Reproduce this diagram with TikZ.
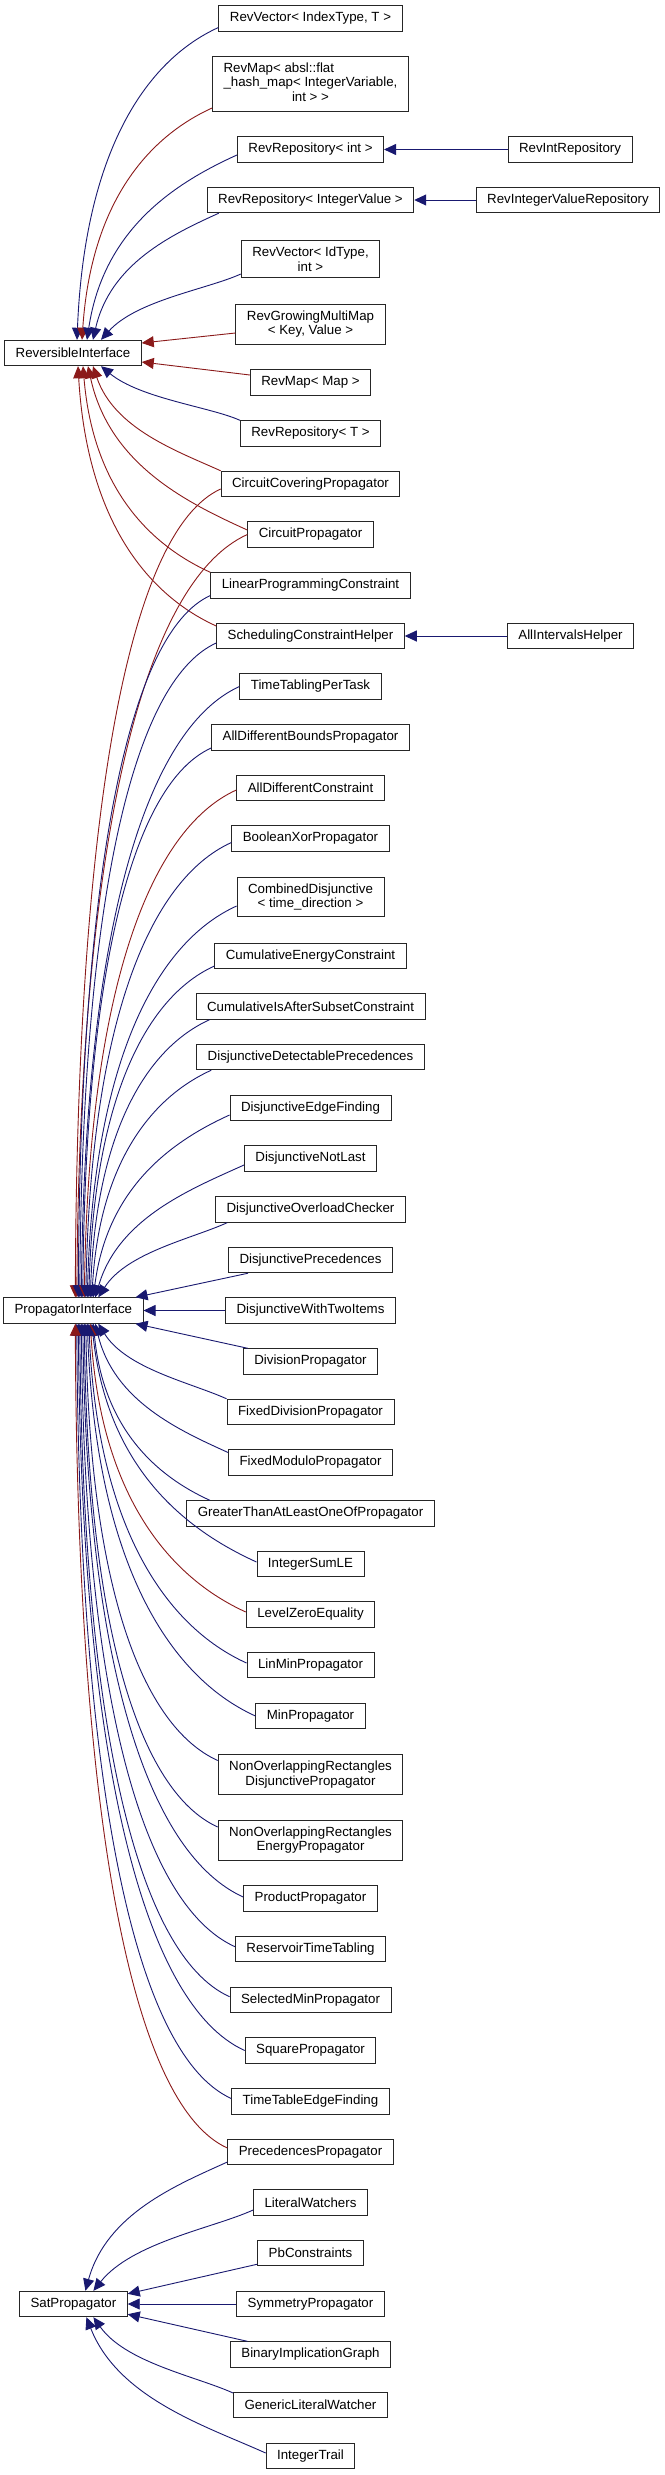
\documentclass[tikz,border=0pt]{standalone}
\usepackage{fontspec}
\setmainfont{Liberation Sans}
\usetikzlibrary{arrows.meta,calc}
\definecolor{dblue}{HTML}{191970}
\definecolor{dred}{HTML}{8B1A1A}
\newcommand\inh[3]{%
 \draw[#1] let \p1=(#2), \p2=(#3),
   \n1={abs((\y2)-(\y1))}, \n2={(\x2)-(\x1)}, \n3={\n1/(\n1+\n2)},
   \n4={((\y2)-(\y1))/(\n1+\n2)},
   \n5={0.55*\n2*(1-\n3)*(1-\n3)}, \n6={0.6*((\y2)-(\y1))},
   \n7={-0.75*\n2*\n3}, \n8={-0.34*\n2*\n4}
 in (\p1) .. controls ($(\p1)+(\n5,\n6)$) and ($(\p2)+(\n7,\n8)$) .. (\p2);}
\begin{document}
\begin{tikzpicture}[x=1pt,y=1pt,
  box/.style={draw=black!85, line width=0.9pt, fill=white,
    font=\fontsize{13.3}{14.5}\selectfont, inner xsep=11pt, inner ysep=6.5pt,
    minimum height=25.5pt, align=center},
  ib/.style={draw=dblue, line width=0.9pt, arrows={Triangle[length=12pt,width=11pt]-}},
  ir/.style={draw=dred, line width=0.9pt, arrows={Triangle[length=12pt,width=11pt]-}}]
\fill[white] (0,0) rectangle (664,-2475);
\useasboundingbox (0,0) rectangle (664,-2475);
\def\cx{310.5}
% left column
\node[box] (RI) at (73,-353) {ReversibleInterface};
\node[box] (PI) at (73.3,-1310.5) {PropagatorInterface};
\node[box] (SP) at (73.4,-2304) {SatPropagator};
% middle column
\node[box] (RevVecIT) at (\cx,-18.5) {RevVector< IndexType, T >};
\node[box, inner ysep=5.3pt] (RevMapAbsl) at (\cx,-84) {\begin{tabular}{@{}l@{}}RevMap< absl::flat\\\_hash\_map< IntegerVariable,\\\multicolumn{1}{@{}c@{}}{int > >}\end{tabular}};
\node[box] (RevRepInt) at (\cx,-149.5) {RevRepository< int >};
\node[box] (RevRepIV) at (\cx,-200) {RevRepository< IntegerValue >};
\node[box] (RevVecId) at (\cx,-259) {RevVector< IdType,\\int >};
\node[box] (RevGMM) at (\cx,-324) {RevGrowingMultiMap\\< Key, Value >};
\node[box] (RevMapMap) at (\cx,-382.5) {RevMap< Map >};
\node[box] (RevRepT) at (\cx,-433.5) {RevRepository< T >};
\node[box] (CircCov) at (\cx,-484) {CircuitCoveringPropagator};
\node[box] (CircProp) at (\cx,-534.5) {CircuitPropagator};
\node[box] (LPC) at (\cx,-585.5) {LinearProgrammingConstraint};
\node[box] (SCH) at (\cx,-636) {SchedulingConstraintHelper};
\node[box] (TTPT) at (\cx,-686.5) {TimeTablingPerTask};
\node[box] (ADBP) at (\cx,-737.5) {AllDifferentBoundsPropagator};
\node[box] (ADC) at (\cx,-788) {AllDifferentConstraint};
\node[box] (BXP) at (\cx,-838.5) {BooleanXorPropagator};
\node[box] (CD) at (\cx,-897) {CombinedDisjunctive\\< time\_direction >};
\node[box] (CEC) at (\cx,-956) {CumulativeEnergyConstraint};
\node[box] (CIASC) at (\cx,-1006.5) {CumulativeIsAfterSubsetConstraint};
\node[box] (DDP) at (\cx,-1057) {DisjunctiveDetectablePrecedences};
\node[box] (DEF) at (\cx,-1108) {DisjunctiveEdgeFinding};
\node[box] (DNL) at (\cx,-1158.5) {DisjunctiveNotLast};
\node[box] (DOC) at (\cx,-1209.5) {DisjunctiveOverloadChecker};
\node[box] (DP) at (\cx,-1260) {DisjunctivePrecedences};
\node[box] (DWTI) at (\cx,-1310.5) {DisjunctiveWithTwoItems};
\node[box] (DivP) at (\cx,-1361.5) {DivisionPropagator};
\node[box] (FDP) at (\cx,-1412) {FixedDivisionPropagator};
\node[box] (FMP) at (\cx,-1462.5) {FixedModuloPropagator};
\node[box] (GTALOOP) at (\cx,-1513.5) {GreaterThanAtLeastOneOfPropagator};
\node[box] (ISLE) at (\cx,-1564) {IntegerSumLE};
\node[box] (LZE) at (\cx,-1614.5) {LevelZeroEquality};
\node[box] (LMP) at (\cx,-1665) {LinMinPropagator};
\node[box] (MinP) at (\cx,-1716) {MinPropagator};
\node[box] (NORDP) at (\cx,-1774.5) {NonOverlappingRectangles\\DisjunctivePropagator};
\node[box] (NOREP) at (\cx,-1840) {NonOverlappingRectangles\\EnergyPropagator};
\node[box] (ProdP) at (\cx,-1898.5) {ProductPropagator};
\node[box] (RTT) at (\cx,-1949) {ReservoirTimeTabling};
\node[box] (SMP) at (\cx,-2000) {SelectedMinPropagator};
\node[box] (SqP) at (\cx,-2050.5) {SquarePropagator};
\node[box] (TTEF) at (\cx,-2101.5) {TimeTableEdgeFinding};
\node[box] (PrecP) at (\cx,-2152) {PrecedencesPropagator};
\node[box] (LW) at (\cx,-2202.5) {LiteralWatchers};
\node[box] (PbC) at (\cx,-2253) {PbConstraints};
\node[box] (SymP) at (\cx,-2304) {SymmetryPropagator};
\node[box] (BIG) at (\cx,-2354.5) {BinaryImplicationGraph};
\node[box] (GLW) at (\cx,-2405) {GenericLiteralWatcher};
\node[box] (IT) at (\cx,-2456) {IntegerTrail};
% right column
\node[box] (RevIntRepo) at (570,-149.5) {RevIntRepository};
\node[box] (RevIVRepo) at (568,-200) {RevIntegerValueRepository};
\node[box] (AIH) at (570.5,-636) {AllIntervalsHelper};
% right column edges
\draw[ib] (RevRepInt.east) -- (RevIntRepo.west);
\draw[ib] (RevRepIV.east) -- (RevIVRepo.west);
\draw[ib] (SCH.east) -- (AIH.west);
% ReversibleInterface
\inh{ib}{[xshift=4pt]RI.north}{[yshift=-9pt]RevVecIT.west}
\inh{ir}{[xshift=9pt]RI.north}{[yshift=-24pt]RevMapAbsl.west}
\inh{ib}{[xshift=14pt]RI.north}{[yshift=-5.5pt]RevRepInt.west}
\inh{ib}{[xshift=20pt]RI.north}{[xshift=12pt]RevRepIV.south west}
\inh{ib}{[xshift=28pt]RI.north}{[yshift=-15pt]RevVecId.west}
\draw[ir] ([yshift=10pt]RI.east) -- ([yshift=-9pt]RevGMM.west);
\draw[ir] ([yshift=-9pt]RI.east) -- ([yshift=7.5pt]RevMapMap.west);
\inh{ib}{[xshift=28pt]RI.south}{RevRepT.north west}
\inh{ir}{[xshift=20pt]RI.south}{CircCov.north west}
\inh{ir}{[xshift=15pt]RI.south}{[yshift=4.5pt]CircProp.west}
\inh{ir}{[xshift=10pt]RI.south}{LPC.north west}
\inh{ir}{[xshift=5pt]RI.south}{[yshift=10pt]SCH.west}
% PropagatorInterface, children above
\inh{ir}{[xshift=2pt]PI.north}{[yshift=-5pt]CircCov.west}
\inh{ir}{[xshift=3.5pt]PI.north}{CircProp.west}
\inh{ib}{[xshift=5pt]PI.north}{[yshift=-10pt]LPC.west}
\inh{ib}{[xshift=6.5pt]PI.north}{[yshift=-7pt]SCH.west}
\inh{ib}{[xshift=8pt]PI.north}{TTPT.west}
\inh{ib}{[xshift=9.5pt]PI.north}{[yshift=-10.5pt]ADBP.west}
\inh{ir}{[xshift=11pt]PI.north}{[yshift=-2pt]ADC.west}
\inh{ib}{[xshift=12.5pt]PI.north}{[yshift=-4pt]BXP.west}
\inh{ib}{[xshift=14pt]PI.north}{[yshift=-9pt]CD.west}
\inh{ib}{[xshift=15.5pt]PI.north}{[yshift=-10pt]CEC.west}
\inh{ib}{[xshift=17pt]PI.north}{[xshift=14pt]CIASC.south west}
\inh{ib}{[xshift=18.5pt]PI.north}{[xshift=15pt]DDP.south west}
\inh{ib}{[xshift=20pt]PI.north}{[yshift=-7pt]DEF.west}
\inh{ib}{[xshift=22pt]PI.north}{[yshift=-6.5pt]DNL.west}
\inh{ib}{[xshift=25pt]PI.north}{[xshift=12pt]DOC.south west}
\draw[ib] ([xshift=-8pt]PI.north east) -- ([xshift=20pt]DP.south west);
\draw[ib] (PI.east) -- (DWTI.west);
\draw[ib] ([xshift=-8pt]PI.south east) -- ([xshift=5pt]DivP.north west);
% PropagatorInterface, children below
\inh{ib}{[xshift=25pt]PI.south}{FDP.north west}
\inh{ib}{[xshift=22pt]PI.south}{[yshift=10pt]FMP.west}
\inh{ib}{[xshift=20pt]PI.south}{[xshift=23.6pt]GTALOOP.north west}
\inh{ib}{[xshift=18.5pt]PI.south}{[yshift=2pt]ISLE.west}
\inh{ir}{[xshift=17pt]PI.south}{[yshift=2.5pt]LZE.west}
\inh{ib}{[xshift=15.5pt]PI.south}{[yshift=2pt]LMP.west}
\inh{ib}{[xshift=14pt]PI.south}{MinP.west}
\inh{ib}{[xshift=12.5pt]PI.south}{[yshift=14pt]NORDP.west}
\inh{ib}{[xshift=11pt]PI.south}{[yshift=13pt]NOREP.west}
\inh{ib}{[xshift=9.5pt]PI.south}{[yshift=1.5pt]ProdP.west}
\inh{ib}{[xshift=8pt]PI.south}{[yshift=2.3pt]RTT.west}
\inh{ib}{[xshift=6.5pt]PI.south}{[yshift=3.3pt]SMP.west}
\inh{ib}{[xshift=5pt]PI.south}{SqP.west}
\inh{ib}{[xshift=3.5pt]PI.south}{[yshift=3pt]TTEF.west}
\inh{ir}{[xshift=2pt]PI.south}{[yshift=4pt]PrecP.west}
% SatPropagator
\inh{ib}{[xshift=12pt]SP.north}{[yshift=-10pt]PrecP.west}
\inh{ib}{[xshift=20pt]SP.north}{[yshift=-7.5pt]LW.west}
\draw[ib] ([yshift=-3pt]SP.north east) -- ([yshift=2pt]PbC.south west);
\draw[ib] (SP.east) -- (SymP.west);
\draw[ib] ([yshift=3pt]SP.south east) -- ([xshift=17.5pt]BIG.north west);
\inh{ib}{[xshift=20pt]SP.south}{[yshift=12pt]GLW.west}
\inh{ib}{[xshift=13pt]SP.south}{[yshift=3pt]IT.west}
\end{tikzpicture}
\end{document}
